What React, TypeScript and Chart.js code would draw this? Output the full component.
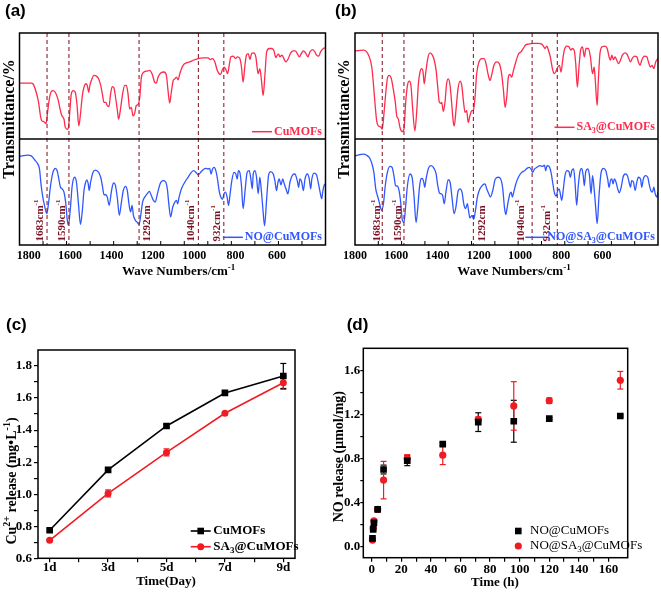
import React, { useEffect, useRef } from 'react';
import { Chart, registerables } from 'chart.js';

Chart.register(...registerables);

const SERIF = '"Liberation Serif", "Times New Roman", Times, serif';
const SANS = '"Liberation Sans", Arial, Helvetica, sans-serif';

// ---------------- (a)/(b) FTIR spectra: [wavenumber (cm-1), relative transmittance inside its sub-plot]
const irCuMOFs: [number, number][] = [
  [1800, .527], [1750, .527], [1743, .521], [1729, .441], [1719, .346], [1711, .219], [1705, .171], [1697, .165], [1687, .146], [1680, .267],
  [1672, .394], [1665, .448], [1658, .457], [1648, .441], [1637, .378], [1626, .267], [1620, .219], [1611, .187], [1606, .114], [1597, .092],
  [1592, .108], [1586, .267], [1580, .425], [1572, .457], [1563, .441], [1556, .330], [1548, .124], [1541, .235], [1533, .410], [1526, .489],
  [1518, .521], [1512, .505], [1506, .441], [1501, .505], [1492, .568], [1484, .600], [1474, .594], [1464, .568], [1455, .505], [1448, .425],
  [1441, .346], [1433, .346], [1427, .314], [1420, .305], [1413, .425], [1406, .495], [1399, .483], [1392, .394], [1384, .267], [1379, .187],
  [1370, .298], [1362, .425], [1353, .505], [1346, .505], [1339, .425], [1332, .283], [1325, .298], [1318, .219], [1311, .241], [1304, .314],
  [1297, .324], [1289, .394], [1282, .584], [1271, .632], [1257, .641], [1247, .648], [1237, .616], [1226, .537], [1219, .527], [1211, .584],
  [1200, .622], [1186, .632], [1176, .600], [1169, .457], [1162, .340], [1155, .441], [1147, .552], [1140, .568], [1133, .584], [1126, .559],
  [1119, .616], [1105, .695], [1091, .718], [1077, .727], [1062, .743], [1041, .759], [1020, .765], [999, .765], [989, .749], [980, .759],
  [970, .727], [960, .648], [952, .616], [946, .610], [939, .648], [931, .679], [923, .654], [916, .616], [909, .695], [902, .775],
  [892, .781], [882, .759], [874, .775], [864, .759], [857, .679], [850, .537], [843, .679], [836, .791], [828, .806], [821, .749],
  [814, .806], [804, .813], [796, .775], [786, .616], [779, .664], [772, .552], [765, .410], [757, .616], [750, .822], [739, .854],
  [728, .854], [719, .832], [711, .768], [705, .791], [699, .800], [694, .775], [685, .791], [677, .759], [668, .727], [658, .759],
  [648, .813], [637, .832], [628, .832], [620, .806], [611, .775], [604, .800], [594, .832], [583, .806], [575, .775], [566, .822],
  [555, .844], [545, .822], [538, .791], [529, .781], [521, .822], [509, .854], [500, .860],
];

const irNOCuMOFs: [number, number][] = [
  [1800, .835], [1765, .847], [1750, .841], [1736, .804], [1722, .763], [1715, .717], [1708, .561], [1701, .452], [1694, .374], [1684, .296],
  [1677, .389], [1668, .561], [1658, .685], [1648, .723], [1640, .701], [1633, .623], [1626, .545], [1619, .530], [1611, .498], [1604, .405],
  [1597, .234], [1592, .187], [1584, .343], [1576, .561], [1566, .639], [1558, .592], [1549, .374], [1541, .193], [1533, .327], [1526, .514],
  [1519, .592], [1514, .614], [1508, .576], [1504, .514], [1498, .592], [1488, .685], [1477, .707], [1464, .685], [1455, .639], [1448, .561],
  [1441, .474], [1434, .474], [1427, .452], [1419, .374], [1410, .498], [1401, .586], [1393, .567], [1384, .436], [1376, .280], [1367, .405],
  [1359, .514], [1349, .554], [1342, .514], [1335, .389], [1328, .312], [1322, .374], [1316, .280], [1308, .234], [1299, .212], [1292, .193],
  [1285, .280], [1277, .405], [1268, .452], [1258, .483], [1248, .505], [1240, .467], [1231, .421], [1224, .405], [1214, .483], [1203, .576],
  [1190, .607], [1180, .598], [1172, .530], [1165, .374], [1158, .265], [1149, .358], [1140, .405], [1133, .421], [1128, .389], [1122, .452],
  [1112, .530], [1098, .592], [1084, .639], [1070, .685], [1060, .701], [1048, .679], [1040, .660], [1031, .685], [1020, .710], [1009, .723],
  [999, .717], [992, .723], [986, .670], [980, .717], [973, .732], [966, .701], [959, .623], [952, .514], [945, .452], [938, .430],
  [931, .483], [925, .498], [918, .452], [912, .374], [906, .467], [898, .607], [889, .685], [881, .670], [875, .623], [870, .701],
  [864, .685], [857, .561], [850, .343], [841, .530], [833, .685], [824, .701], [818, .639], [811, .530], [807, .670], [800, .701],
  [793, .639], [786, .483], [779, .639], [772, .498], [765, .312], [759, .181], [750, .436], [742, .654], [733, .692], [722, .670],
  [715, .607], [708, .514], [702, .592], [697, .623], [689, .567], [682, .623], [675, .576], [668, .530], [660, .483], [651, .592],
  [640, .660], [630, .670], [620, .607], [614, .545], [609, .623], [601, .592], [594, .514], [587, .623], [577, .670], [569, .623],
  [563, .530], [558, .623], [548, .679], [538, .660], [531, .592], [523, .498], [516, .436], [512, .498], [506, .561], [500, .580],
];

const irSA3CuMOFs: [number, number][] = [
  [1800, .832], [1764, .838], [1750, .822], [1739, .775], [1728, .679], [1721, .521], [1714, .330], [1707, .171], [1700, .124], [1690, .114],
  [1683, .092], [1676, .235], [1667, .457], [1660, .584], [1653, .600], [1644, .568], [1636, .473], [1627, .346], [1621, .219], [1614, .187],
  [1607, .108], [1598, .070], [1590, .092], [1583, .330], [1575, .505], [1567, .546], [1560, .505], [1553, .298], [1543, .076], [1535, .267],
  [1528, .521], [1521, .632], [1514, .664], [1508, .632], [1503, .521], [1497, .616], [1488, .759], [1478, .813], [1468, .791], [1460, .743],
  [1452, .648], [1445, .489], [1438, .346], [1432, .336], [1428, .346], [1421, .260], [1414, .346], [1407, .521], [1400, .568], [1392, .505],
  [1385, .330], [1378, .156], [1374, .124], [1367, .267], [1358, .473], [1349, .546], [1342, .505], [1335, .362], [1328, .251], [1321, .267],
  [1314, .156], [1307, .219], [1299, .267], [1292, .273], [1285, .394], [1278, .616], [1268, .727], [1256, .759], [1246, .759], [1238, .711],
  [1228, .600], [1221, .552], [1214, .600], [1204, .695], [1192, .727], [1181, .711], [1171, .616], [1163, .457], [1156, .298], [1149, .394],
  [1142, .584], [1135, .610], [1128, .584], [1120, .648], [1110, .727], [1099, .800], [1088, .822], [1078, .854], [1068, .886], [1056, .895],
  [1035, .902], [1013, .902], [999, .895], [990, .870], [985, .854], [977, .876], [970, .838], [962, .775], [953, .664], [946, .616],
  [939, .632], [930, .679], [923, .695], [916, .632], [909, .743], [902, .838], [892, .876], [882, .870], [874, .838], [867, .854],
  [859, .832], [853, .711], [846, .489], [839, .679], [832, .838], [824, .870], [816, .775], [809, .854], [799, .854], [790, .775],
  [781, .616], [774, .679], [769, .552], [761, .314], [756, .552], [749, .806], [739, .870], [727, .876], [718, .854], [710, .775],
  [704, .743], [698, .791], [691, .749], [684, .775], [677, .743], [670, .711], [661, .743], [653, .791], [641, .813], [633, .800],
  [625, .759], [618, .727], [611, .759], [601, .781], [591, .775], [584, .727], [577, .695], [570, .743], [558, .781], [548, .775],
  [541, .727], [533, .679], [525, .695], [518, .664], [510, .727], [500, .760],
];

const irNOSA3CuMOFs: [number, number][] = [
  [1800, .841], [1764, .857], [1750, .847], [1739, .826], [1729, .779], [1719, .685], [1711, .530], [1704, .467], [1696, .405], [1686, .327],
  [1678, .389], [1670, .561], [1661, .685], [1650, .741], [1641, .732], [1633, .654], [1626, .561], [1618, .555], [1611, .514], [1604, .405],
  [1597, .234], [1590, .212], [1583, .358], [1575, .561], [1564, .670], [1555, .639], [1547, .467], [1538, .212], [1531, .343], [1524, .530],
  [1517, .623], [1511, .629], [1505, .592], [1501, .545], [1495, .623], [1485, .723], [1474, .748], [1461, .723], [1452, .670], [1445, .561],
  [1438, .492], [1431, .483], [1424, .467], [1417, .389], [1410, .498], [1400, .617], [1392, .592], [1384, .452], [1375, .296], [1367, .358],
  [1357, .514], [1349, .530], [1341, .498], [1332, .374], [1325, .343], [1318, .389], [1312, .312], [1307, .255], [1298, .280], [1291, .243],
  [1284, .312], [1275, .452], [1264, .530], [1252, .567], [1242, .576], [1235, .530], [1226, .483], [1219, .452], [1209, .514], [1198, .623],
  [1185, .639], [1175, .623], [1166, .530], [1159, .358], [1153, .287], [1146, .370], [1140, .440], [1135, .485], [1130, .498], [1125, .452],
  [1119, .498], [1110, .576], [1099, .639], [1085, .685], [1073, .701], [1062, .723], [1053, .732], [1045, .717], [1038, .685], [1030, .717],
  [1020, .732], [1006, .748], [996, .741], [987, .754], [982, .701], [976, .748], [967, .741], [959, .685], [952, .592], [945, .498],
  [937, .461], [930, .514], [924, .530], [919, .483], [913, .421], [906, .530], [899, .654], [890, .701], [882, .692], [876, .639],
  [870, .701], [862, .717], [856, .592], [849, .374], [842, .561], [834, .701], [827, .723], [821, .654], [816, .561], [810, .692],
  [801, .717], [794, .654], [787, .483], [781, .654], [774, .530], [767, .343], [761, .202], [753, .467], [744, .685], [734, .723],
  [724, .701], [716, .623], [710, .545], [704, .607], [698, .623], [693, .576], [687, .623], [680, .592], [673, .530], [666, .492],
  [658, .545], [650, .639], [641, .670], [631, .654], [624, .592], [618, .545], [613, .607], [605, .592], [598, .514], [591, .592],
  [584, .639], [575, .623], [570, .545], [563, .623], [554, .654], [544, .639], [538, .576], [531, .514], [524, .498], [518, .545],
  [512, .483], [505, .452], [500, .500],
];

const irMarkers = [1683, 1590, 1292, 1040, 932];
const irMarkerLabels = ['1683cm^{-1}', '1590cm^{-1}', '1292cm', '1040cm^{-1}', '932cm^{-1}'];
const irMinorTicks = [1700, 1600, 1500, 1400, 1300, 1200, 1100, 1000, 900, 800, 700, 600];
const irTickLabels = [1800, 1600, 1400, 1200, 1000, 800, 600];

// ---------------- (c) Cu2+ release
const cDays = [1, 3, 5, 7, 9];
const cCuMOFs = [0.775, 1.152, 1.426, 1.632, 1.738];
const cCuMOFsErr = [0.008, 0.012, 0.01, 0.008, 0.078];
const cSA3CuMOFs = [0.712, 1.005, 1.261, 1.505, 1.696];
const cSA3CuMOFsErr = [0.006, 0.022, 0.022, 0.008, 0.042];
const cXTicks = [1, 2, 3, 4, 5, 6, 7, 8, 9];
const cXLabels = ['1d', '', '3d', '', '5d', '', '7d', '', '9d'];
const cYTicks = [0.6, 0.7, 0.8, 0.9, 1.0, 1.1, 1.2, 1.3, 1.4, 1.5, 1.6, 1.7, 1.8];
const cYLabels = ['0.6', '', '0.8', '', '1.0', '', '1.2', '', '1.4', '', '1.6', '', '1.8'];

// ---------------- (d) NO release
const dTime = [0.5, 1, 1.5, 4, 8, 24, 48, 72, 96, 120, 168];
const dNOCuMOFs = [0.075, 0.157, 0.217, 0.338, 0.70, 0.78, 0.93, 1.13, 1.138, 1.162, 1.186];
const dNOCuMOFsErr = [0.01, 0.01, 0.01, 0.01, 0.04, 0.045, 0.012, 0.085, 0.19, 0.01, 0.01];
const dNOSA3CuMOFs = [0.06, 0.17, 0.235, 0.338, 0.604, 0.80, 0.83, 1.156, 1.277, 1.325, 1.51];
const dNOSA3CuMOFsErr = [0.01, 0.01, 0.01, 0.01, 0.17, 0.035, 0.085, 0.02, 0.22, 0.025, 0.08];
const dXTicks = [0, 10, 20, 30, 40, 50, 60, 70, 80, 90, 100, 110, 120, 130, 140, 150, 160];
const dXLabels = ['0', '', '20', '', '40', '', '60', '', '80', '', '100', '', '120', '', '140', '', '160'];
const dYTicks = [0, 0.2, 0.4, 0.6, 0.8, 1.0, 1.2, 1.4, 1.6];
const dYLabels = ['0.0', '', '0.4', '', '0.8', '', '1.2', '', '1.6'];

const IR_RED = '#ff2a4c';
const IR_BLUE = '#3057ff';
const DASH = '#8e2333';
const ANN = '#7a1326';
const C_RED = '#f01c24';

// ---------------- rich text helpers (^{} superscript, _{} subscript)
type Seg = { t: string; s: number };
function segs(str: string): Seg[] {
  const out: Seg[] = [];
  let buf = '';
  let i = 0;
  while (i < str.length) {
    const c = str[i];
    if ((c === '^' || c === '_') && str[i + 1] === '{') {
      if (buf) out.push({ t: buf, s: 0 });
      buf = '';
      const end = str.indexOf('}', i);
      out.push({ t: str.slice(i + 2, end), s: c === '^' ? 1 : -1 });
      i = end + 1;
    } else {
      buf += c;
      i++;
    }
  }
  if (buf) out.push({ t: buf, s: 0 });
  return out;
}
function fontOf(s: number, size: number, weight: string, family: string) {
  return `${weight} ${s ? Math.round(size * 0.68) : size}px ${family}`;
}
function richWidth(ctx: CanvasRenderingContext2D, str: string, size: number, weight: string, family: string) {
  let w = 0;
  for (const g of segs(str)) {
    ctx.font = fontOf(g.s, size, weight, family);
    w += ctx.measureText(g.t).width;
  }
  return w;
}
function drawRich(ctx: CanvasRenderingContext2D, str: string, x: number, y: number, size: number, weight: string,
  family: string, color: string, align: 'left' | 'center' | 'right') {
  const w = richWidth(ctx, str, size, weight, family);
  let cx = align === 'left' ? x : align === 'center' ? x - w / 2 : x - w;
  ctx.fillStyle = color;
  ctx.textBaseline = 'middle';
  ctx.textAlign = 'left';
  for (const g of segs(str)) {
    ctx.font = fontOf(g.s, size, weight, family);
    const dy = g.s === 1 ? -size * 0.36 : g.s === -1 ? size * 0.3 : 0;
    ctx.fillText(g.t, cx, y + dy);
    cx += ctx.measureText(g.t).width;
  }
  return w;
}
function drawRotated(ctx: CanvasRenderingContext2D, str: string, x: number, y: number, size: number, weight: string,
  family: string, color: string, align: 'left' | 'center' | 'right') {
  ctx.save();
  ctx.translate(x, y);
  ctx.rotate(-Math.PI / 2);
  drawRich(ctx, str, 0, 0, size, weight, family, color, align);
  ctx.restore();
}
function seg(ctx: CanvasRenderingContext2D, x1: number, y1: number, x2: number, y2: number) {
  ctx.beginPath();
  ctx.moveTo(x1, y1);
  ctx.lineTo(x2, y2);
  ctx.stroke();
}

// ---------------- FTIR panel
type IRCfg = {
  panel: string; panelX: number; panelY: number;
  top: [number, number][]; bottom: [number, number][];
  topName: string; bottomName: string; topLegendY: number; bottomLegendY: number; legendRight: number;
  padLeft: number; padRight: number; padTop: number; xlHeight: number; labelMin: number; labelMax: number;
  annOffsets: number[]; annBottom: number;
  yTitleX: number; yTitleY: number; xTitleX: number; xTitleY: number;
};

const panelA: IRCfg = {
  panel: '(a)', panelX: 5, panelY: 11,
  top: irCuMOFs, bottom: irNOCuMOFs, topName: 'CuMOFs', bottomName: 'NO@CuMOFs',
  topLegendY: 131.7, bottomLegendY: 237.3, legendRight: 322,
  padLeft: 19.5, padRight: 4.5, padTop: 33, xlHeight: 47, labelMin: 365.6, labelMax: 1844.5,
  annOffsets: [-6.7, -6.3, 7.7, -7.3, -6.3], annBottom: 241.5,
  yTitleX: 9.5, yTitleY: 119, xTitleX: 178.7, xTitleY: 272,
};
const panelB: IRCfg = {
  panel: '(b)', panelX: 5, panelY: 11,
  top: irSA3CuMOFs, bottom: irNOSA3CuMOFs, topName: 'SA_{3}@CuMOFs', bottomName: 'NO@SA_{3}@CuMOFs',
  topLegendY: 127.3, bottomLegendY: 237.3, legendRight: 325,
  padLeft: 25, padRight: 3, padTop: 33, xlHeight: 47, labelMin: 330.9, labelMax: 1800,
  annOffsets: [-5.6, -5.7, 8.4, -10.6, -10.6], annBottom: 241.5,
  yTitleX: 14.7, yTitleY: 119, xTitleX: 184, xTitleY: 272,
};

function buildIR(canvas: HTMLCanvasElement, cfg: IRCfg) {
  const decor = {
    id: 'irDecor',
    afterDatasetsDraw(chart: any) {
      const { ctx, chartArea: a, scales } = chart;
      const x = scales.x;
      const y = scales.y;
      ctx.save();
      ctx.strokeStyle = DASH;
      ctx.lineWidth = 1.1;
      ctx.setLineDash([4, 3]);
      for (const w of irMarkers) {
        const px = x.getPixelForValue(w);
        seg(ctx, px, a.top, px, a.bottom);
      }
      ctx.setLineDash([]);
      ctx.strokeStyle = '#000';
      ctx.lineWidth = 1.5;
      ctx.strokeRect(a.left, a.top, a.right - a.left, a.bottom - a.top);
      const my = y.getPixelForValue(1);
      seg(ctx, a.left, my, a.right, my);
      ctx.lineWidth = 1;
      for (const t of irMinorTicks) {
        const px = x.getPixelForValue(t);
        seg(ctx, px, a.bottom, px, a.bottom - 4);
      }
      irMarkerLabels.forEach((s, i) => {
        const px = x.getPixelForValue(irMarkers[i]) + cfg.annOffsets[i];
        drawRotated(ctx, s, px, cfg.annBottom, 11, 'bold', SERIF, ANN, 'left');
      });
      const legend = (name: string, color: string, ly: number) => {
        const w = drawRich(ctx, name, cfg.legendRight, ly, 12, 'bold', SERIF, color, 'right');
        const x2 = cfg.legendRight - w - 2;
        ctx.strokeStyle = color;
        ctx.lineWidth = 1.5;
        seg(ctx, x2 - 20, ly, x2, ly);
      };
      legend(cfg.topName, IR_RED, cfg.topLegendY);
      legend(cfg.bottomName, IR_BLUE, cfg.bottomLegendY);
      drawRotated(ctx, 'Transmittance/%', cfg.yTitleX, cfg.yTitleY, 16, 'bold', SERIF, '#000', 'center');
      drawRich(ctx, 'Wave Numbers/cm^{-1}', cfg.xTitleX, cfg.xTitleY, 13, 'bold', SERIF, '#000', 'center');
      drawRich(ctx, cfg.panel, cfg.panelX, cfg.panelY, 17, 'bold', SANS, '#000', 'left');
      ctx.restore();
    },
  };
  const line = (d: [number, number][], off: number, color: string) => ({
    data: d.map(([w, t]) => ({ x: w, y: t + off })),
    borderColor: color,
    borderWidth: 1.3,
    pointRadius: 0,
    tension: 0.4,
    cubicInterpolationMode: 'monotone',
    fill: false,
  });
  return new Chart(canvas, {
    type: 'line',
    data: { datasets: [line(cfg.top, 1, IR_RED), line(cfg.bottom, 0, IR_BLUE)] as any },
    options: {
      responsive: false,
      animation: false,
      events: [],
      layout: { padding: { left: cfg.padLeft, top: cfg.padTop, right: cfg.padRight, bottom: 0 } },
      plugins: { legend: { display: false }, tooltip: { enabled: false } },
      scales: {
        x: { type: 'linear', display: false, reverse: true, min: 500, max: 1800 },
        y: { type: 'linear', display: false, min: 0, max: 2 },
        xl: {
          type: 'linear', axis: 'x', position: 'bottom', reverse: true, min: cfg.labelMin, max: cfg.labelMax,
          grid: { display: false, drawTicks: false, tickLength: 0 }, border: { display: false },
          afterBuildTicks: (s: any) => { s.ticks = irTickLabels.map((v) => ({ value: v })); },
          afterFit: (s: any) => { s.height = cfg.xlHeight; },
          ticks: {
            autoSkip: false, maxRotation: 0, padding: 4, color: '#000',
            font: { family: SERIF, size: 12, weight: 'bold' },
            callback: (v: any) => String(v),
          },
        },
      } as any,
    },
    plugins: [decor],
  } as any);
}

// ---------------- error bars
function errorBars(chart: any, xs: number[], ys: number[], errs: number[], color: string, cap: number) {
  const { ctx, scales } = chart;
  const x = scales.x;
  const y = scales.y;
  ctx.save();
  ctx.strokeStyle = color;
  ctx.lineWidth = 1.2;
  xs.forEach((xv, i) => {
    const px = x.getPixelForValue(xv);
    const y1 = y.getPixelForValue(ys[i] + errs[i]);
    const y2 = y.getPixelForValue(ys[i] - errs[i]);
    seg(ctx, px, y1, px, y2);
    seg(ctx, px - cap, y1, px + cap, y1);
    seg(ctx, px - cap, y2, px + cap, y2);
  });
  ctx.restore();
}
function marker(ctx: CanvasRenderingContext2D, kind: string, x: number, y: number, r: number, color: string) {
  ctx.fillStyle = color;
  if (kind === 'rect') ctx.fillRect(x - r, y - r, 2 * r, 2 * r);
  else {
    ctx.beginPath();
    ctx.arc(x, y, r, 0, Math.PI * 2);
    ctx.fill();
  }
}

function axisCommon(size: number, tickLen: number, pad: number) {
  return {
    grid: { display: true, drawOnChartArea: false, drawTicks: true, tickLength: tickLen, color: '#000', lineWidth: 1.2 },
    border: { display: false },
    ticks: { autoSkip: false, maxRotation: 0, padding: pad, color: '#000', font: { family: SERIF, size, weight: 'bold' } },
  };
}

function buildC(canvas: HTMLCanvasElement) {
  const decor = {
    id: 'cDecor',
    beforeDatasetsDraw(chart: any) {
      errorBars(chart, cDays, cCuMOFs, cCuMOFsErr, '#000', 3);
      errorBars(chart, cDays, cSA3CuMOFs, cSA3CuMOFsErr, C_RED, 3);
    },
    afterDraw(chart: any) {
      const { ctx, chartArea: a } = chart;
      ctx.save();
      ctx.strokeStyle = '#000';
      ctx.lineWidth = 1.5;
      ctx.strokeRect(a.left, a.top, a.right - a.left, a.bottom - a.top);
      const rows: [string, string, string, number][] = [
        ['CuMOFs', '#000', 'rect', 239],
        ['SA_{3}@CuMOFs', C_RED, 'circle', 254.7],
      ];
      for (const [name, color, kind, ly] of rows) {
        ctx.strokeStyle = color;
        ctx.lineWidth = 1.6;
        seg(ctx, 190.7, ly, 210.7, ly);
        marker(ctx, kind, 200.7, ly, kind === 'rect' ? 3.3 : 3.5, color);
        drawRich(ctx, name, 213.3, ly, 13, 'bold', SERIF, '#000', 'left');
      }
      drawRich(ctx, 'Time(Day)', 166, 289.7, 13, 'bold', SERIF, '#000', 'center');
      drawRotated(ctx, 'Cu^{2+} release (mg•L^{-1})', 12.5, 189, 14, 'bold', SERIF, '#000', 'center');
      drawRich(ctx, '(c)', 6, 33, 17, 'bold', SANS, '#000', 'left');
      ctx.restore();
    },
  };
  const xAx: any = axisCommon(13, 4, -2);
  const yAx: any = axisCommon(13, 4, 2);
  return new Chart(canvas, {
    type: 'line',
    data: {
      datasets: [
        {
          data: cDays.map((d, i) => ({ x: d, y: cCuMOFs[i] })), borderColor: '#000', backgroundColor: '#000',
          borderWidth: 1.6, pointStyle: 'rect', pointRadius: 4.7, pointBorderWidth: 0, pointBackgroundColor: '#000', tension: 0,
        },
        {
          data: cDays.map((d, i) => ({ x: d, y: cSA3CuMOFs[i] })), borderColor: C_RED, backgroundColor: C_RED,
          borderWidth: 1.6, pointStyle: 'circle', pointRadius: 3.5, pointBorderWidth: 0, pointBackgroundColor: C_RED, tension: 0,
        },
      ] as any,
    },
    options: {
      responsive: false,
      animation: false,
      events: [],
      layout: { padding: { left: 0, top: 58, right: 35, bottom: 0 } },
      plugins: { legend: { display: false }, tooltip: { enabled: false } },
      scales: {
        x: {
          type: 'linear', min: 0.6, max: 9.4, ...xAx,
          afterBuildTicks: (s: any) => { s.ticks = cXTicks.map((v) => ({ value: v })); },
          afterFit: (s: any) => { s.height = 33.7; },
          ticks: { ...xAx.ticks, callback: (_v: any, i: number) => cXLabels[i] },
        },
        y: {
          type: 'linear', min: 0.6, max: 1.9, ...yAx,
          afterBuildTicks: (s: any) => { s.ticks = cYTicks.map((v) => ({ value: v })); },
          afterFit: (s: any) => { s.width = 38; },
          ticks: { ...yAx.ticks, callback: (_v: any, i: number) => cYLabels[i] },
        },
      } as any,
    },
    plugins: [decor],
  } as any);
}

function buildD(canvas: HTMLCanvasElement) {
  const decor = {
    id: 'dDecor',
    beforeDatasetsDraw(chart: any) {
      errorBars(chart, dTime, dNOCuMOFs, dNOCuMOFsErr, '#000', 3);
      errorBars(chart, dTime, dNOSA3CuMOFs, dNOSA3CuMOFsErr, C_RED, 3);
    },
    afterDraw(chart: any) {
      const { ctx, chartArea: a } = chart;
      ctx.save();
      ctx.strokeStyle = '#000';
      ctx.lineWidth = 1.5;
      ctx.strokeRect(a.left, a.top, a.right - a.left, a.bottom - a.top);
      marker(ctx, 'rect', 188.3, 239, 3.3, '#000');
      drawRich(ctx, 'NO@CuMOFs', 200, 239, 13, 'normal', SERIF, '#000', 'left');
      marker(ctx, 'circle', 188.3, 254, 3.6, C_RED);
      drawRich(ctx, 'NO@SA_{3}@CuMOFs', 200, 254, 13, 'normal', SERIF, '#000', 'left');
      drawRich(ctx, 'Time (h)', 165, 290.7, 13, 'bold', SERIF, '#000', 'center');
      drawRotated(ctx, 'NO release (μmol/mg)', 9, 164.7, 14, 'bold', SERIF, '#000', 'center');
      drawRich(ctx, '(d)', 16.7, 33, 17, 'bold', SANS, '#000', 'left');
      ctx.restore();
    },
  };
  const xAx: any = axisCommon(13, 4, 0);
  const yAx: any = axisCommon(13, 3, 0);
  return new Chart(canvas, {
    type: 'scatter',
    data: {
      datasets: [
        {
          data: dTime.map((t, i) => ({ x: t, y: dNOCuMOFs[i] })), pointStyle: 'rect', pointRadius: 4.7,
          pointBorderWidth: 0, pointBackgroundColor: '#000', backgroundColor: '#000', borderColor: '#000',
        },
        {
          data: dTime.map((t, i) => ({ x: t, y: dNOSA3CuMOFs[i] })), pointStyle: 'circle', pointRadius: 3.6,
          pointBorderWidth: 0, pointBackgroundColor: C_RED, backgroundColor: C_RED, borderColor: C_RED,
        },
      ] as any,
    },
    options: {
      responsive: false,
      animation: false,
      events: [],
      layout: { padding: { left: 0, top: 56.3, right: 33.3, bottom: 0 } },
      plugins: { legend: { display: false }, tooltip: { enabled: false } },
      scales: {
        x: {
          type: 'linear', min: -5.7, max: 173, ...xAx,
          afterBuildTicks: (s: any) => { s.ticks = dXTicks.map((v) => ({ value: v })); },
          afterFit: (s: any) => { s.height = 34.3; },
          ticks: { ...xAx.ticks, callback: (_v: any, i: number) => dXLabels[i] },
        },
        y: {
          type: 'linear', min: -0.1, max: 1.8, ...yAx,
          afterBuildTicks: (s: any) => { s.ticks = dYTicks.map((v) => ({ value: v })); },
          afterFit: (s: any) => { s.width = 33.3; },
          ticks: { ...yAx.ticks, callback: (_v: any, i: number) => dYLabels[i] },
        },
      } as any,
    },
    plugins: [decor],
  } as any);
}

function ChartBox(props: { left: number; top: number; width: number; height: number; build: (c: HTMLCanvasElement) => Chart }) {
  const ref = useRef<HTMLCanvasElement>(null);
  useEffect(() => {
    const chart = props.build(ref.current as HTMLCanvasElement);
    return () => chart.destroy();
  }, []);
  return (
    <canvas
      ref={ref}
      width={props.width}
      height={props.height}
      style={{ position: 'absolute', left: props.left, top: props.top, width: props.width, height: props.height }}
    />
  );
}

export default function App() {
  return (
    <div style={{ position: 'fixed', left: 0, top: 0, width: 661, height: 592, background: '#fff', overflow: 'hidden' }}>
      <ChartBox left={0} top={0} width={330} height={292} build={(c) => buildIR(c, panelA)} />
      <ChartBox left={330} top={0} width={331} height={292} build={(c) => buildIR(c, panelB)} />
      <ChartBox left={0} top={292} width={330} height={300} build={buildC} />
      <ChartBox left={330} top={292} width={331} height={300} build={buildD} />
    </div>
  );
}
